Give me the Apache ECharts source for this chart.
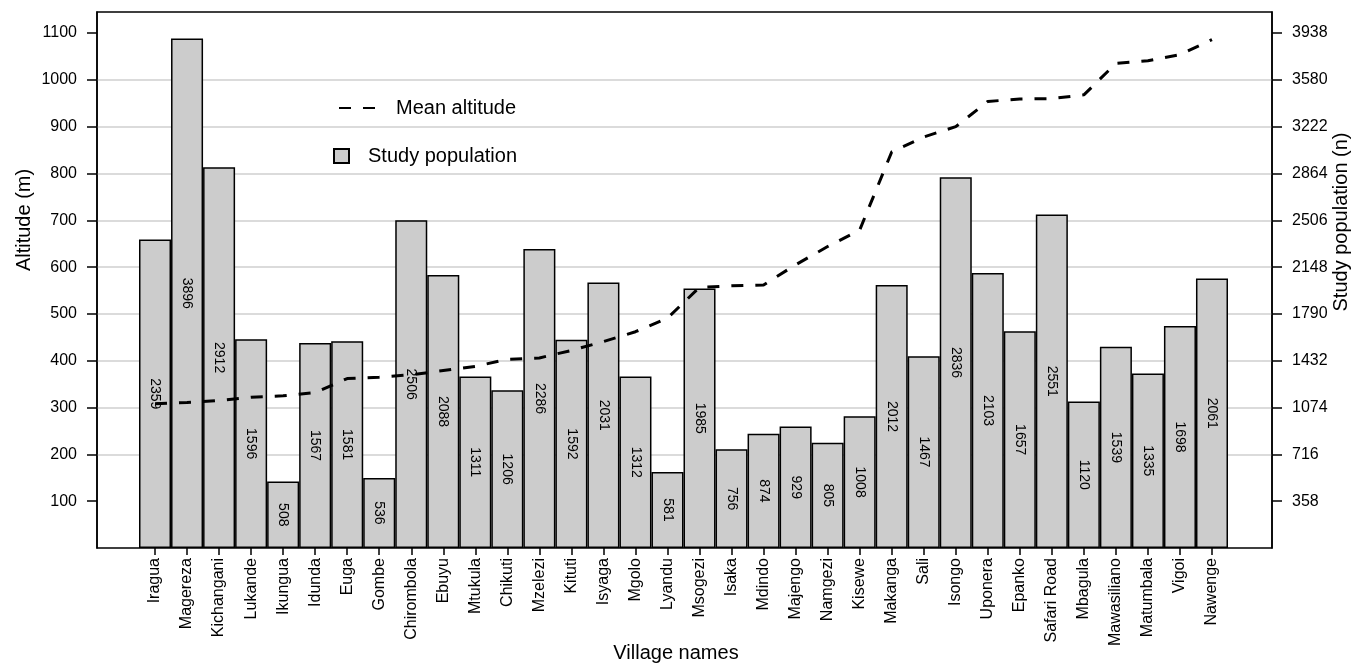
<!DOCTYPE html>
<html>
<head>
<meta charset="utf-8">
<script src="https://cdn.jsdelivr.net/npm/echarts@6/dist/echarts.min.js"></script>
<style>html,body{margin:0;padding:0;background:#fff}#c{width:1371px;height:666px}</style>
</head>
<body>
<div id="c"></div>
<script>
const villages = ['Iragua','Magereza','Kichangani','Lukande','Ikungua','Idunda','Euga','Gombe','Chirombola','Ebuyu','Mtukula','Chikuti','Mzelezi','Kituti','Isyaga','Mgolo','Lyandu','Msogezi','Isaka','Mdindo','Majengo','Namgezi','Kisewe','Makanga','Sali','Isongo','Uponera','Epanko','Safari Road','Mbagula','Mawasiliano','Matumbala','Vigoi','Nawenge'];
const population = [2359,3896,2912,1596,508,1567,1581,536,2506,2088,1311,1206,2286,1592,2031,1312,581,1985,756,874,929,805,1008,2012,1467,2836,2103,1657,2551,1120,1539,1335,1698,2061];
const meanAltitude = [308,311,315,322,325,332,362,365,370,379,388,403,406,422,441,462,491,557,560,562,605,644,679,846,878,900,954,959,960,968,1035,1041,1054,1086];
const altitudeTicks = [100,200,300,400,500,600,700,800,900,1000,1100];
const populationTicks = [358,716,1074,1432,1790,2148,2506,2864,3222,3580,3938];

const FONT = "'Liberation Sans', Arial, sans-serif";
const altMax = 1145;
const popMax = altMax * 3.58;
const plain = v => String(Math.round(v));

const chart = echarts.init(document.getElementById('c'), null, {renderer: 'canvas'});
chart.setOption({
  animation: false,
  backgroundColor: '#fff',
  textStyle: {fontFamily: FONT, color: '#000'},
  grid: [
    {left: 97, right: 99, top: 12, bottom: 118, show: true, borderColor: '#000', borderWidth: 1.5, backgroundColor: 'transparent', containLabel: false},
    {left: 139, right: 143, top: 12, bottom: 118, containLabel: false}
  ],
  legend: [
    {data: ['Mean altitude'], left: 333, top: 93, itemWidth: 37, itemHeight: 14,
     itemStyle: {opacity: 0},
     textStyle: {fontSize: 20, fontFamily: FONT, color: '#000', padding: [0,0,0,15]}},
    {data: ['Study population'], left: 328, top: 141, itemWidth: 15, itemHeight: 14, icon: 'rect',
     textStyle: {fontSize: 20, fontFamily: FONT, color: '#000', padding: [0,0,0,14]}}
  ],
  xAxis: [
    {type: 'value', gridIndex: 0, min: 0, max: 1, show: false},
    {type: 'category', gridIndex: 1, data: villages,
     axisLine: {show: false},
     axisTick: {show: true, alignWithLabel: true, length: 7, lineStyle: {color: '#000', width: 1.5}},
     axisLabel: {rotate: 90, margin: 10, fontSize: 16, color: '#000', fontFamily: FONT, interval: 0},
     splitLine: {show: false}}
  ],
  yAxis: [
    {type: 'value', gridIndex: 0, position: 'left', min: 0, max: altMax, interval: 100,
     axisLine: {show: true, lineStyle: {color: '#000', width: 1.5}},
     axisTick: {show: true, length: 10, customValues: altitudeTicks, lineStyle: {color: '#000', width: 1.5}},
     axisLabel: {fontSize: 16, margin: 20, color: '#000', fontFamily: FONT, customValues: altitudeTicks, formatter: plain},
     splitLine: {show: true, showMinLine: false, showMaxLine: false, lineStyle: {color: '#cfcfcf', width: 1.5}}},
    {type: 'value', gridIndex: 0, position: 'right', min: 0, max: popMax, interval: 358,
     axisLine: {show: true, lineStyle: {color: '#000', width: 1.5}},
     axisTick: {show: true, length: 10, customValues: populationTicks, lineStyle: {color: '#000', width: 1.5}},
     axisLabel: {fontSize: 16, margin: 20, color: '#000', fontFamily: FONT, customValues: populationTicks, formatter: plain},
     splitLine: {show: false}},
    {type: 'value', gridIndex: 1, min: 0, max: altMax, show: false, splitLine: {show: false}},
    {type: 'value', gridIndex: 1, min: 0, max: popMax, show: false, splitLine: {show: false}}
  ],
  series: [
    {name: 'Study population', type: 'bar', xAxisIndex: 1, yAxisIndex: 3, data: population,
     barCategoryGap: '0%',
     itemStyle: {color: '#cccccc', borderColor: '#000', borderWidth: 1.5},
     label: {show: true, position: 'inside', rotate: -90, fontSize: 14, color: '#000', fontFamily: FONT},
     z: 2},
    {name: 'Mean altitude', type: 'line', xAxisIndex: 1, yAxisIndex: 2, data: meanAltitude,
     symbol: 'none', smooth: false,
     lineStyle: {color: '#000', width: 3, type: [12, 12]},
     itemStyle: {color: '#000'},
     z: 3}
  ],
  graphic: [
    {type: 'text', x: 24, y: 220, rotation: Math.PI / 2,
     style: {text: 'Altitude (m)', fontSize: 20, fontFamily: FONT, fill: '#000', align: 'center', verticalAlign: 'middle'}},
    {type: 'text', x: 1341, y: 222, rotation: Math.PI / 2,
     style: {text: 'Study population (n)', fontSize: 20, fontFamily: FONT, fill: '#000', align: 'center', verticalAlign: 'middle'}},
    {type: 'text', x: 676, y: 653,
     style: {text: 'Village names', fontSize: 20, fontFamily: FONT, fill: '#000', align: 'center', verticalAlign: 'middle'}}
  ]
});
</script>
</body>
</html>
